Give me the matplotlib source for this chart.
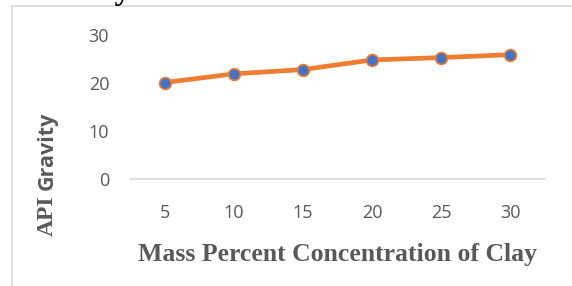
import numpy as np
import matplotlib
matplotlib.use("Agg")
from matplotlib import pyplot as plt
from matplotlib.lines import Line2D

# data
categories = ['5', '10', '15', '20', '25', '30']
api_gravity = [20.1, 21.9, 22.8, 24.8, 25.3, 25.9]
y_ticks = [0, 10, 20, 30]

W, H = 572, 286
fig = plt.figure(figsize=(W / 100, H / 100), dpi=100)
ax = fig.add_axes([130 / W, 1 - 179 / H, 415 / W, 144 / H])

x = np.arange(len(categories))
ax.plot(x, api_gravity, color='#ED7D31', lw=3.4, marker='o', markersize=8.5,
        markerfacecolor='#4472C4', markeredgecolor='#ED7D31', markeredgewidth=1.2,
        solid_capstyle='round', zorder=3)

ax.set_xlim(-0.5, len(categories) - 0.5)
ax.set_ylim(0, 30)
ax.set_xticks(x)
ax.set_xticklabels(categories)
ax.set_yticks(y_ticks)
for s in ['top', 'right', 'left']:
    ax.spines[s].set_visible(False)
ax.spines['bottom'].set_color('#D9D9D9')
ax.spines['bottom'].set_linewidth(1.2)
ax.tick_params(length=0, labelsize=13, labelcolor='#595959')
ax.tick_params(axis='x', pad=18)
ax.tick_params(axis='y', pad=15)
for lab in ax.get_xticklabels() + ax.get_yticklabels():
    lab.set_fontfamily('Open Sans')

fig.text(338 / W, 1 - 261 / H, 'Mass Percent Concentration of Clay', ha='center',
         va='baseline', fontsize=18.5, fontweight='bold', family='Liberation Serif',
         color='#595959')

# y label in mixed fonts
fig.text(47 / W, 1 - 216 / H, 'API', rotation=90, ha='center', va='center',
         fontsize=17, fontweight='bold', family='Liberation Serif', color='#595959')
fig.text(47 / W, 1 - 151 / H, 'Gravity', rotation=90, ha='center', va='center',
         fontsize=15.5, fontweight='bold', family='Open Sans', color='#595959')

# chart frame (only top and left visible) and clipped title above it
fig.add_artist(Line2D([12 / W, 12 / W], [0, 1 - 6 / H], color='#D9D9D9', lw=1.2))
fig.add_artist(Line2D([12 / W, 1], [1 - 6 / H, 1 - 6 / H], color='#D9D9D9', lw=1.2))
fig.text(20 / W, 1 + 0.5 / H, 'Gravity of the Crude Oil', ha='left', va='baseline',
         fontsize=24, fontweight='bold', family='Liberation Serif', color='black')

fig.savefig('out.png', dpi=100)
